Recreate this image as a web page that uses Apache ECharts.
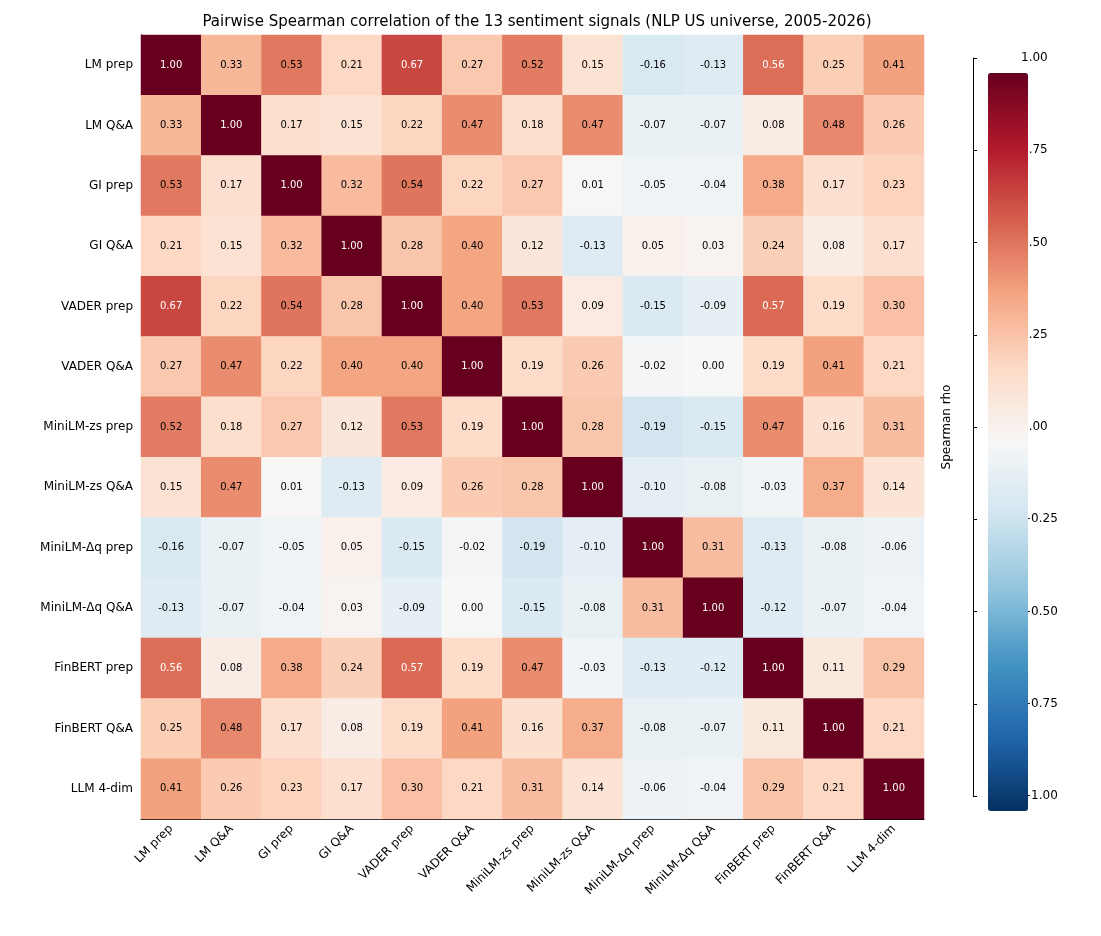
<!DOCTYPE html>
<html><head><meta charset="utf-8">
<script src="https://cdn.jsdelivr.net/npm/echarts@6/dist/echarts.min.js"></script>
<style>html,body{margin:0;padding:0;background:#fff}#c{width:1101px;height:936px}</style>
</head><body><div id="c"></div>
<script>
const categories = ["LM prep","LM Q&A","GI prep","GI Q&A","VADER prep","VADER Q&A","MiniLM-zs prep","MiniLM-zs Q&A","MiniLM-Δq prep","MiniLM-Δq Q&A","FinBERT prep","FinBERT Q&A","LLM 4-dim"];
const matrix = [
[1.00,0.33,0.53,0.21,0.67,0.27,0.52,0.15,-0.16,-0.13,0.56,0.25,0.41],
[0.33,1.00,0.17,0.15,0.22,0.47,0.18,0.47,-0.07,-0.07,0.08,0.48,0.26],
[0.53,0.17,1.00,0.32,0.54,0.22,0.27,0.01,-0.05,-0.04,0.38,0.17,0.23],
[0.21,0.15,0.32,1.00,0.28,0.40,0.12,-0.13,0.05,0.03,0.24,0.08,0.17],
[0.67,0.22,0.54,0.28,1.00,0.40,0.53,0.09,-0.15,-0.09,0.57,0.19,0.30],
[0.27,0.47,0.22,0.40,0.40,1.00,0.19,0.26,-0.02,0.00,0.19,0.41,0.21],
[0.52,0.18,0.27,0.12,0.53,0.19,1.00,0.28,-0.19,-0.15,0.47,0.16,0.31],
[0.15,0.47,0.01,-0.13,0.09,0.26,0.28,1.00,-0.10,-0.08,-0.03,0.37,0.14],
[-0.16,-0.07,-0.05,0.05,-0.15,-0.02,-0.19,-0.10,1.00,0.31,-0.13,-0.08,-0.06],
[-0.13,-0.07,-0.04,0.03,-0.09,0.00,-0.15,-0.08,0.31,1.00,-0.12,-0.07,-0.04],
[0.56,0.08,0.38,0.24,0.57,0.19,0.47,-0.03,-0.13,-0.12,1.00,0.11,0.29],
[0.25,0.48,0.17,0.08,0.19,0.41,0.16,0.37,-0.08,-0.07,0.11,1.00,0.21],
[0.41,0.26,0.23,0.17,0.30,0.21,0.31,0.14,-0.06,-0.04,0.29,0.21,1.00]
];
const colorbarTicks = [-1,-0.75,-0.5,-0.25,0,0.25,0.5,0.75,1];
const rdbu = ['#053061','#2166ac','#4393c3','#92c5de','#d1e5f0','#f7f7f7','#fddbc7','#f4a582','#d6604d','#b2182b','#67001f'];

const data = [];
matrix.forEach((row,i)=>row.forEach((v,j)=>{
  data.push({value:[j,i,v],label:{color:Math.abs(v)>0.55?'#ffffff':'#000000'}});
}));
const F = 'DejaVu Sans';
const chart = echarts.init(document.getElementById('c'));
chart.setOption({
  backgroundColor:'#fff',
  animation:false,
  title:{text:'Pairwise Spearman correlation of the 13 sentiment signals (NLP US universe, 2005-2026)',left:532,top:10,textAlign:'center',textStyle:{fontFamily:F,fontSize:15,fontWeight:'normal',color:'#000'}},
  grid:[
    {left:141,top:35,width:783,height:784},
    {left:973,top:58,width:40,height:738}
  ],
  xAxis:[
    {type:'category',data:categories,gridIndex:0,axisLine:{lineStyle:{color:'#000'}},axisTick:{alignWithLabel:true,length:4,lineStyle:{color:'#000'}},
     axisLabel:{rotate:45,interval:0,fontFamily:F,fontSize:12,color:'#000',margin:8},splitLine:{show:false}},
    {type:'value',gridIndex:1,show:false,min:0,max:1}
  ],
  yAxis:[
    {type:'category',data:categories,inverse:true,gridIndex:0,axisLine:{lineStyle:{color:'#000'}},axisTick:{alignWithLabel:true,length:4,lineStyle:{color:'#000'}},
     axisLabel:{interval:0,fontFamily:F,fontSize:12,color:'#000',margin:8},splitLine:{show:false}},
    {type:'value',gridIndex:1,position:'right',min:-1,max:1,interval:0.25,
     axisLine:{show:true,lineStyle:{color:'#000'}},axisTick:{show:true,length:4,lineStyle:{color:'#000'}},
     axisLabel:{fontFamily:F,fontSize:12,color:'#000',formatter:v=>(v<0?'\u2212':'')+Math.abs(v).toFixed(2)},
     splitLine:{show:false},name:'Spearman rho',nameLocation:'middle',nameRotate:90,nameGap:-72,
     nameTextStyle:{fontFamily:F,fontSize:12,color:'#000',padding:[0,0,0,0]}}
  ],
  visualMap:{type:'continuous',min:-1,max:1,seriesIndex:0,calculable:false,show:true,
    left:973,top:58,itemWidth:40,itemHeight:738,text:['',''],showLabel:false,
    inRange:{color:rdbu},textStyle:{color:'rgba(0,0,0,0)'}},
  series:[
    {type:'heatmap',xAxisIndex:0,yAxisIndex:0,data:data,
     label:{show:true,fontFamily:F,fontSize:10,formatter:p=>p.value[2].toFixed(2)},
     itemStyle:{borderWidth:0}},
    {type:'scatter',xAxisIndex:1,yAxisIndex:1,data:[],silent:true}
  ]
});
</script></body></html>
